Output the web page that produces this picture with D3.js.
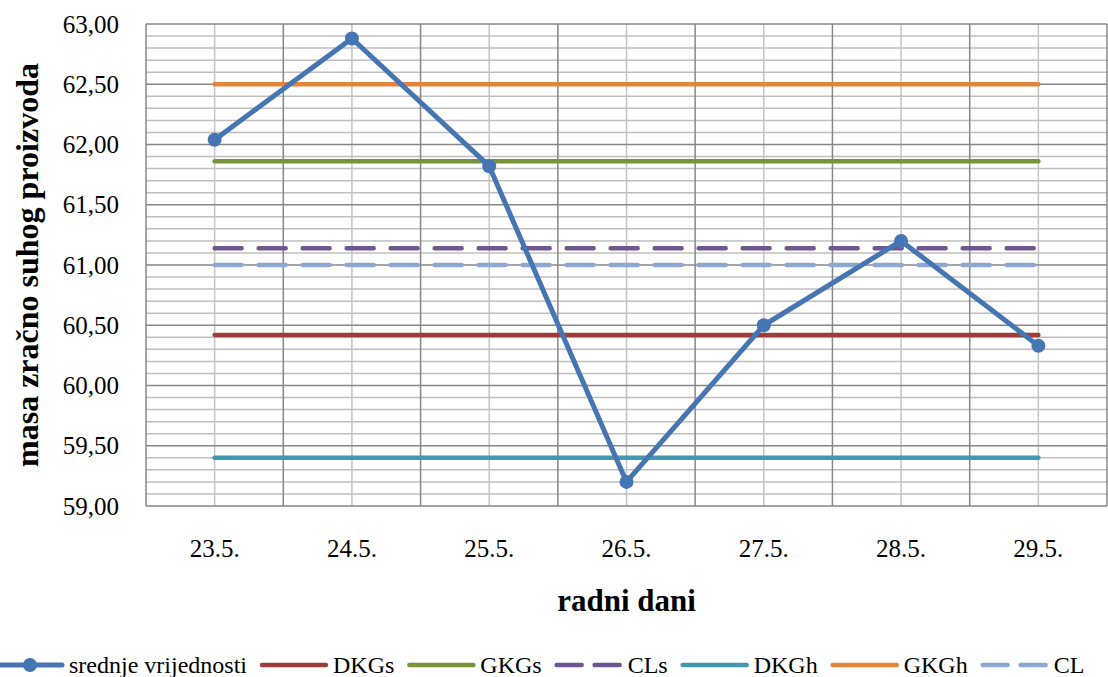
<!DOCTYPE html>
<html>
<head>
<meta charset="utf-8">
<script src="https://cdn.jsdelivr.net/npm/d3@7"></script>
<style>
  html, body { margin: 0; padding: 0; background: #fff; }
  svg { display: block; }
  svg text { font-family: "Liberation Serif", "Times New Roman", serif; }
</style>
</head>
<body>
<svg id="chart" width="1108" height="677"></svg>
<script>
// ---- data ----
const categories = ["23.5.", "24.5.", "25.5.", "26.5.", "27.5.", "28.5.", "29.5."];
const srednjeVrijednosti = [62.04, 62.88, 61.82, 59.20, 60.50, 61.20, 60.33];
const DKGs = 60.42;
const GKGs = 61.86;
const CLs = 61.14;
const DKGh = 59.40;
const GKGh = 62.50;
const CL = 61.00;
const yTicks = [59.0, 59.5, 60.0, 60.5, 61.0, 61.5, 62.0, 62.5, 63.0];
const yDomain = [59, 63];
const seriesNames = ["srednje vrijednosti", "DKGs", "GKGs", "CLs", "DKGh", "GKGh", "CL"];

const FONT = "'Liberation Serif', 'Times New Roman', serif";

const refLines = [
  { name: "DKGs", value: DKGs, color: "#9E3C39", dash: null },
  { name: "GKGs", value: GKGs, color: "#77933C", dash: null },
  { name: "CLs", value: CLs, color: "#6F5592", dash: "27,17" },
  { name: "DKGh", value: DKGh, color: "#4198AF", dash: null },
  { name: "GKGh", value: GKGh, color: "#E3843B", dash: null },
  { name: "CL", value: CL, color: "#8EA8D4", dash: "27,17" }
];
const mainColor = "#4675B3";

// ---- layout ----
const svg = d3.select("#chart");
const plot = { left: 146, right: 1107, top: 24, bottom: 506 };

const y = d3.scaleLinear().domain(yDomain).range([plot.bottom, plot.top]);
const xBand = d3.scaleBand().domain(categories).range([plot.left, plot.right]).padding(0);
const xc = c => xBand(c) + xBand.bandwidth() / 2;

const grid = svg.append("g");
const minorY = d3.range(590, 631).map(v => v / 10);
grid.selectAll("line.hminor").data(minorY.filter(v => Math.round(v * 10) % 5 !== 0)).enter()
  .append("line")
  .attr("x1", plot.left).attr("x2", plot.right)
  .attr("y1", d => y(d)).attr("y2", d => y(d))
  .attr("stroke", "#BFBFBF").attr("stroke-width", 1.5);
grid.selectAll("line.vminor").data(categories).enter()
  .append("line")
  .attr("x1", d => xc(d)).attr("x2", d => xc(d))
  .attr("y1", plot.top).attr("y2", plot.bottom)
  .attr("stroke", "#C4C4C4").attr("stroke-width", 1.5);
grid.selectAll("line.hmajor").data(yTicks).enter()
  .append("line")
  .attr("x1", plot.left).attr("x2", plot.right)
  .attr("y1", d => y(d)).attr("y2", d => y(d))
  .attr("stroke", "#878787").attr("stroke-width", 1.5);
const bounds = categories.map(c => xBand(c)).concat([plot.right]);
grid.selectAll("line.vmajor").data(bounds).enter()
  .append("line")
  .attr("x1", d => d).attr("x2", d => d)
  .attr("y1", plot.top).attr("y2", plot.bottom)
  .attr("stroke", "#878787").attr("stroke-width", 1.5);

// ---- axes labels ----
const yAxis = d3.axisLeft(y).tickValues(yTicks).tickSize(0).tickPadding(0)
  .tickFormat(d => d3.format(".2f")(d).replace(".", ","));
const gy = svg.append("g").attr("transform", `translate(${plot.left - 27},0)`).call(yAxis);
gy.attr("font-family", null).style("font-family", FONT);
gy.select(".domain").remove();
gy.selectAll("text").style("font-family", FONT).attr("font-size", 25).attr("fill", "#000");

const xAxis = d3.axisBottom(xBand).tickSize(0).tickPadding(0);
const gx = svg.append("g").attr("transform", `translate(0,${plot.bottom + 33})`).call(xAxis);
gx.attr("font-family", null).style("font-family", FONT);
gx.select(".domain").remove();
gx.selectAll("text").style("font-family", FONT).attr("font-size", 25).attr("fill", "#000");

svg.append("text")
  .attr("x", (plot.left + plot.right) / 2).attr("y", 611)
  .attr("text-anchor", "middle").attr("font-weight", "bold").attr("font-size", 31)
  .style("font-family", FONT)
  .text("radni dani");

svg.append("text")
  .attr("transform", `translate(38,${(plot.top + plot.bottom) / 2}) rotate(-90)`)
  .attr("text-anchor", "middle").attr("font-weight", "bold").attr("font-size", 32)
  .style("font-family", FONT)
  .text("masa zračno suhog proizvoda");

// ---- reference lines ----
const first = categories[0], last = categories[categories.length - 1];
svg.append("g").selectAll("line").data(refLines).enter()
  .append("line")
  .attr("x1", xc(first)).attr("x2", xc(last))
  .attr("y1", d => y(d.value)).attr("y2", d => y(d.value))
  .attr("stroke", d => d.color).attr("stroke-width", 4.5)
  .attr("stroke-linecap", "round")
  .attr("stroke-dasharray", d => d.dash);

// ---- main series ----
const line = d3.line().x((d, i) => xc(categories[i])).y(d => y(d));
svg.append("path").datum(srednjeVrijednosti)
  .attr("d", line).attr("fill", "none")
  .attr("stroke", mainColor).attr("stroke-width", 5)
  .attr("stroke-linejoin", "round");
svg.append("g").selectAll("circle").data(srednjeVrijednosti).enter()
  .append("circle")
  .attr("cx", (d, i) => xc(categories[i])).attr("cy", d => y(d))
  .attr("r", 7).attr("fill", mainColor);

// ---- legend ----
const legend = svg.append("g");
const legendItems = [{ name: seriesNames[0], color: mainColor, dash: null, marker: true }]
  .concat(refLines.map(r => ({ name: r.name, color: r.color, dash: r.dash ? "25,13" : null, marker: false })));
let lx = -4;
const ly = 665;
legendItems.forEach(it => {
  legend.append("line")
    .attr("x1", lx + 2).attr("x2", lx + 66)
    .attr("y1", ly).attr("y2", ly)
    .attr("stroke", it.color).attr("stroke-width", it.marker ? 5 : 4.5)
    .attr("stroke-linecap", "round")
    .attr("stroke-dasharray", it.dash);
  if (it.marker) {
    legend.append("circle").attr("cx", lx + 34).attr("cy", ly).attr("r", 7).attr("fill", it.color);
  }
  const t = legend.append("text")
    .attr("x", lx + 73).attr("y", ly + 8)
    .attr("font-size", 24).attr("fill", "#000")
    .style("font-family", FONT)
    .text(it.name);
  lx = lx + 73 + t.node().getComputedTextLength() + 13;
});
</script>
</body>
</html>
